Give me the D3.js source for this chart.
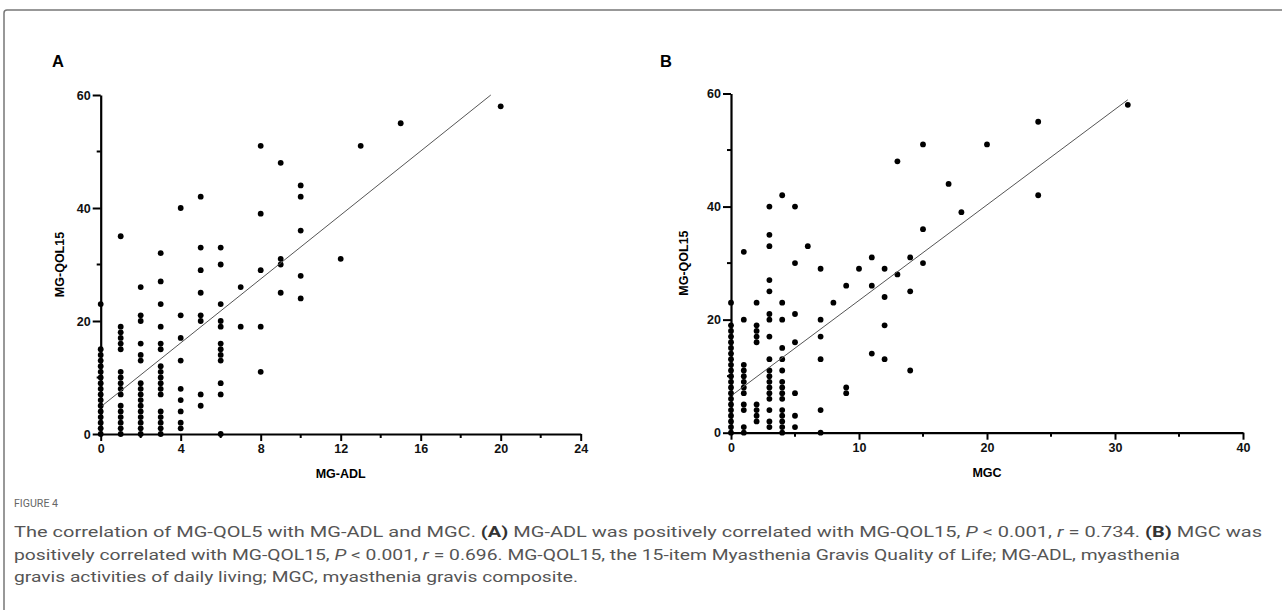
<!DOCTYPE html>
<html><head><meta charset="utf-8">
<script src="https://cdn.jsdelivr.net/npm/d3@7"></script>
<style>
html,body{margin:0;padding:0;background:#fff;}
svg{display:block;}
</style></head>
<body>
<svg id="chart" width="1282" height="610"></svg>
<script>
// ---------- DATA ----------
// Panel A: MG-ADL score (x) and the MG-QOL15 values observed at that score
const adlScores = [0, 1, 2, 3, 4, 5, 6, 7, 8, 9, 10, 12, 13, 15, 20];
const adlQol = [
  [0,1,2,3,4,5,6,7,8,9,10,11,12,13,14,15,23],
  [0,1,2,3,4,5,7,8,9,10,11,15,16,17,18,19,35],
  [0,1,2,3,4,5,6,7,8,9,13,14,16,20,21,26],
  [0,1,2,3,4,7,8,9,10,11,12,15,16,19,23,27,32],
  [1,2,4,6,8,13,17,21,40],
  [5,7,20,21,25,29,33,42],
  [0,7,9,13,14,15,16,19,20,23,30,33],
  [19,26],
  [11,19,29,39,51],
  [25,30,31,48],
  [24,28,36,42,44],
  [31],
  [51],
  [55],
  [58]
];
// Panel B: MGC score (x) and the MG-QOL15 values observed at that score
const mgcScores = [0, 1, 2, 3, 4, 5, 6, 7, 8, 9, 10, 11, 12, 13, 14, 15, 17, 18, 20, 24, 31];
const mgcQol = [
  [0,1,2,3,4,5,6,7,8,9,10,11,12,13,14,15,16,17,18,19,23],
  [0,1,4,5,7,8,9,10,11,12,20,32],
  [2,3,4,5,16,17,18,19,23],
  [1,2,4,6,7,8,9,10,11,13,17,20,21,25,27,33,35,40],
  [0,1,2,3,4,6,7,8,9,11,13,15,20,23,42],
  [1,3,7,16,21,30,40],
  [33],
  [0,4,13,17,20,29],
  [23],
  [7,8,26],
  [29],
  [14,26,31],
  [13,19,24,29],
  [28,48],
  [11,25,31],
  [30,36,51],
  [44],
  [39],
  [51],
  [42,55],
  [58]
];
// Fitted regression lines [intercept, slope] and x range
const adlFit = [4.8, 2.83], adlFitRange = [0, 20];
const mgcFit = [6.5, 1.69], mgcFitRange = [0, 31];

// Tick labels
const yTicks = [0, 20, 40, 60];
const yMinor = [10, 30, 50];
const adlTicks = [0, 4, 8, 12, 16, 20, 24];
const adlMinor = [2, 6, 10, 14, 18, 22];
const mgcTicks = [0, 10, 20, 30, 40];
const mgcMinor = [5, 15, 25, 35];

// ---------- DRAW ----------
const svg = d3.select("#chart");
const FONT = "'Liberation Sans', Arial, sans-serif";

// outer frame
svg.append("rect").attr("x", 4).attr("y", 10).attr("width", 1300).attr("height", 640)
  .attr("rx", 3).attr("fill", "none").attr("stroke", "#777").attr("stroke-width", 1.5);

function panel(cfg) {
  const x = d3.scaleLinear().domain(cfg.xDomain).range([cfg.left, cfg.right]);
  const y = d3.scaleLinear().domain([0, 60]).range([cfg.bottom, cfg.top]);
  const g = svg.append("g");

  // points
  const pts = [];
  cfg.xs.forEach((xv, i) => cfg.ys[i].forEach(yv => pts.push([xv, yv])));
  g.append("g").selectAll("circle").data(pts).join("circle")
    .attr("cx", d => x(d[0])).attr("cy", d => y(d[1])).attr("r", 2.9).attr("fill", "#000");

  // regression line (clipped to y max)
  const [b, m] = cfg.fit;
  const xEnd = Math.min(cfg.fitRange[1], (60 - b) / m);
  g.append("line")
    .attr("x1", x(cfg.fitRange[0])).attr("y1", y(b + m * cfg.fitRange[0]))
    .attr("x2", x(xEnd)).attr("y2", y(b + m * xEnd))
    .attr("stroke", "#555").attr("stroke-width", 1);

  // y axis
  const yAxis = d3.axisLeft(y).tickValues(cfg.yTicks).tickSize(8).tickPadding(2).tickSizeOuter(0);
  const ya = g.append("g").attr("transform", `translate(${cfg.left},0)`).call(yAxis);
  ya.append("g").selectAll("line").data(cfg.yMinor).join("line")
    .attr("x1", -4).attr("x2", 0).attr("y1", d => y(d)).attr("y2", d => y(d));
  // x axis
  const xAxis = d3.axisBottom(x).tickValues(cfg.xTicks).tickSize(7).tickPadding(3).tickSizeOuter(0);
  const xa = g.append("g").attr("transform", `translate(0,${cfg.bottom})`).call(xAxis);
  xa.append("g").selectAll("line").data(cfg.xMinor).join("line")
    .attr("y1", 0).attr("y2", 4).attr("x1", d => x(d)).attr("x2", d => x(d));

  [ya, xa].forEach(a => {
    a.select(".domain").attr("stroke", "#000").attr("stroke-width", 2.2);
    a.selectAll("line").attr("stroke", "#000").attr("stroke-width", 2);
    a.selectAll("text").attr("font-family", FONT).attr("font-size", 12.5)
      .attr("font-weight", "bold").attr("fill", "#111");
  });

  // axis titles
  g.append("text").attr("x", (cfg.left + cfg.right) / 2).attr("y", cfg.bottom + 44)
    .attr("text-anchor", "middle").attr("font-family", FONT).attr("font-size", 12.5)
    .attr("font-weight", "bold").text(cfg.xTitle);
  g.append("text")
    .attr("transform", `translate(${cfg.yTitleX},${(cfg.top + cfg.bottom) / 2}) rotate(-90)`)
    .attr("text-anchor", "middle").attr("dominant-baseline", "middle")
    .attr("font-family", FONT).attr("font-size", 12.5).attr("font-weight", "bold").text("MG-QOL15");

  // panel letter
  svg.append("text").attr("x", cfg.letterX).attr("y", 67).attr("font-family", FONT)
    .attr("font-size", 16.5).attr("font-weight", "bold").text(cfg.letter);
}

panel({
  xs: adlScores, ys: adlQol, fit: adlFit, fitRange: adlFitRange,
  xDomain: [0, 24], left: 100.7, right: 580.7, top: 95, bottom: 434,
  yTicks, yMinor, xTicks: adlTicks, xMinor: adlMinor,
  xTitle: "MG-ADL", yTitleX: 61, letter: "A", letterX: 52
});
panel({
  xs: mgcScores, ys: mgcQol, fit: mgcFit, fitRange: mgcFitRange,
  xDomain: [0, 40], left: 731, right: 1243, top: 93.5, bottom: 432.7,
  yTicks, yMinor, xTicks: mgcTicks, xMinor: mgcMinor,
  xTitle: "MGC", yTitleX: 685, letter: "B", letterX: 660
});

// ---------- CAPTION ----------
const CAP = "'Liberation Sans Narrow', 'Roboto', 'Liberation Sans', sans-serif";
svg.append("text").attr("x", 14).attr("y", 507).attr("font-family", CAP).attr("font-size", 11)
  .attr("fill", "#666").attr("textLength", 44).attr("lengthAdjust", "spacingAndGlyphs").text("FIGURE 4");

const captionLines = [
  {y: 537, len: 1248, parts: [
    ["The correlation of MG-QOL5 with MG-ADL and MGC. ", ""], ["(A)", "b"],
    [" MG-ADL was positively correlated with MG-QOL15, ", ""], ["P", "i"], [" < 0.001, ", ""],
    ["r", "i"], [" = 0.734. ", ""], ["(B)", "b"], [" MGC was", ""]]},
  {y: 560, len: 1166, parts: [
    ["positively correlated with MG-QOL15, ", ""], ["P", "i"], [" < 0.001, ", ""], ["r", "i"],
    [" = 0.696. MG-QOL15, the 15-item Myasthenia Gravis Quality of Life; MG-ADL, myasthenia", ""]]},
  {y: 582, len: 564, parts: [["gravis activities of daily living; MGC, myasthenia gravis composite.", ""]]}
];
captionLines.forEach(line => {
  const t = svg.append("text").attr("x", 14).attr("y", line.y).attr("font-family", CAP)
    .attr("font-size", 14.5).attr("fill", "#555")
    .attr("textLength", line.len).attr("lengthAdjust", "spacingAndGlyphs");
  line.parts.forEach(([s, st]) => {
    const ts = t.append("tspan").text(s);
    if (st === "b") ts.attr("font-weight", "bold").attr("fill", "#333");
    if (st === "i") ts.attr("font-style", "italic");
  });
});
</script>
</body></html>
